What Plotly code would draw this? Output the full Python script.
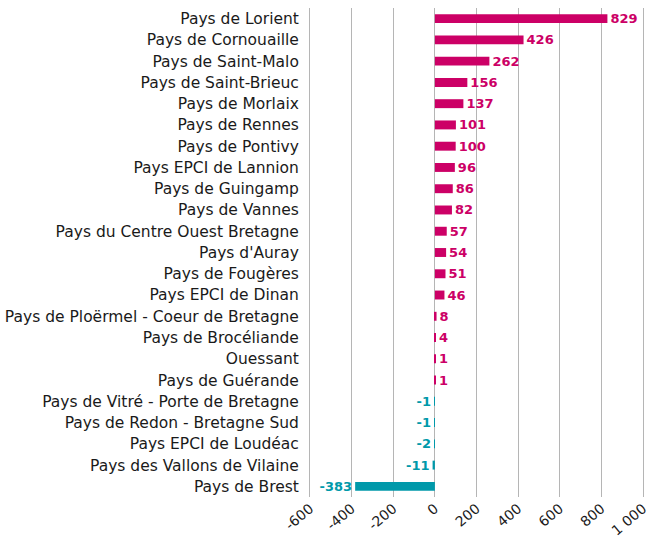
import plotly.graph_objects as go

categories = ["Pays de Lorient", "Pays de Cornouaille", "Pays de Saint-Malo", "Pays de Saint-Brieuc",
              "Pays de Morlaix", "Pays de Rennes", "Pays de Pontivy", "Pays EPCI de Lannion",
              "Pays de Guingamp", "Pays de Vannes", "Pays du Centre Ouest Bretagne", "Pays d'Auray",
              "Pays de Fougères", "Pays EPCI de Dinan", "Pays de Ploërmel - Coeur de Bretagne",
              "Pays de Brocéliande", "Ouessant", "Pays de Guérande", "Pays de Vitré - Porte de Bretagne",
              "Pays de Redon - Bretagne Sud", "Pays EPCI de Loudéac", "Pays des Vallons de Vilaine",
              "Pays de Brest"]
values = [829, 426, 262, 156, 137, 101, 100, 96, 86, 82, 57, 54, 51, 46, 8, 4, 1, 1, -1, -1, -2, -11, -383]
tick_vals = [-600, -400, -200, 0, 200, 400, 600, 800, 1000]
tick_labels = ["-600", "-400", "-200", "0", "200", "400", "600", "800", "1 000"]

POS = "#cc0066"
NEG = "#0099aa"
colors = [POS if v > 0 else NEG for v in values]

fig = go.Figure(go.Bar(
    x=values, y=categories, orientation="h",
    marker=dict(color=colors, line=dict(width=0)),
    width=0.42,
    text=[str(v) for v in values],
    textposition="outside",
    constraintext="none",
    textfont=dict(color=colors, size=13, family="DejaVu Sans", weight="bold"),
    cliponaxis=False,
    hoverinfo="skip",
))

fig.update_layout(
    width=654, height=536,
    margin=dict(l=310, r=11, t=8, b=39),
    plot_bgcolor="white", paper_bgcolor="white",
    showlegend=False,
    font=dict(family="DejaVu Sans", size=15, color="#1a1a1a"),
)
fig.update_xaxes(
    range=[-600, 1000], tickvals=tick_vals, ticktext=tick_labels, tickangle=-40,
    showgrid=True, gridcolor="#b5b5b5", gridwidth=1,
    zeroline=True, zerolinecolor="#b5b5b5", zerolinewidth=1,
    showline=False,
    tickfont=dict(size=14, color="#1a1a1a"),
    automargin=False,
)
fig.update_yaxes(
    autorange="reversed", showgrid=False, ticks="",
    showline=True, linecolor="#b5b5b5", linewidth=1, mirror=True,
    ticklabelstandoff=7,
    tickfont=dict(size=15.5, color="#1a1a1a"),
    automargin=False,
)

fig.write_html("out.html", config={"displayModeBar": False},
               post_script="document.body.style.margin='0';document.body.style.padding='0';")
